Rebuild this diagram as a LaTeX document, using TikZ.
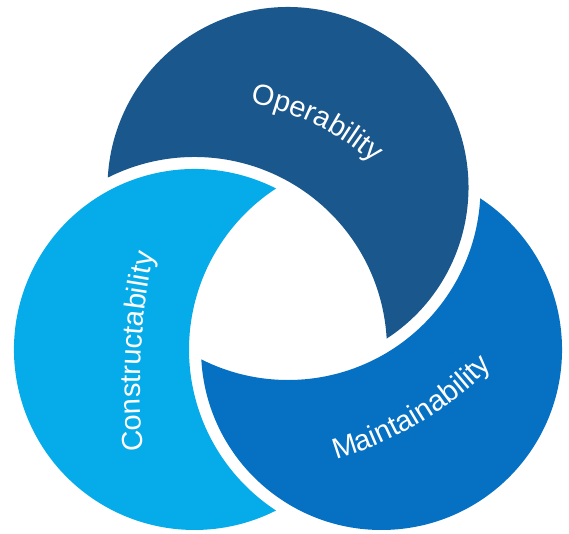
\documentclass[tikz,border=0pt]{standalone}
\usepackage{fontspec}
\setmainfont{Liberation Sans}
\usetikzlibrary{decorations.text,calc}
\definecolor{opblue}{RGB}{26,87,141}
\definecolor{conblue}{RGB}{6,172,234}
\definecolor{mainblue}{RGB}{6,113,195}
\begin{document}
\begin{tikzpicture}[x=1pt,y=1pt,
  lbl/.style={decorate,decoration={text along path,text align=center,
     text={|\color{white}\fontsize{29}{35}\selectfont|#1}}}]
\useasboundingbox (0,0) rectangle (569,534);
% geometry (in units of 100pt for the arithmetic): radius R, widened radius Rw, centre spacing s
\pgfmathsetmacro\R{180.5}
\pgfmathsetmacro\Rw{192.5}
\pgfmathsetmacro\sh{1.08*sqrt(3)}
\pgfmathsetmacro\ah{(\sh*\sh+1.805*1.805-1.925*1.925)/(2*\sh)}
\pgfmathsetmacro\al{acos(\ah/1.805)}
\pgfmathsetmacro\be{acos((\sh-\ah)/1.925)}
\coordinate (O) at (288,238.5);
\coordinate (D) at ($(O)+(90:108)$);
\coordinate (L) at ($(O)+(210:108)$);
\coordinate (M) at ($(O)+(330:108)$);
% crescent: circle at #2 minus widened circle in direction #3
\newcommand\crescent[3]{%
  \fill[#1] ($(#2)+({#3+\al}:\R)$)
    arc[start angle={#3+\al}, end angle={#3+360-\al}, radius=\R]
    arc[start angle={#3+180+\be}, end angle={#3+180-\be}, radius=\Rw]
    -- cycle;}
\crescent{opblue}{D}{240}
\crescent{conblue}{L}{0}
\crescent{mainblue}{M}{120}
% labels
\coordinate (cop) at (202,175.3);
\coordinate (ccon) at (740.2,150.6);
\coordinate (cmain) at (235.7,420.2);
\path[lbl=Operability] ($(cop)+(89:260)$) arc[start angle=89,end angle=39,radius=260pt];
\path[lbl=Constructability] ($(ccon)+(189:600)$) arc[start angle=189,end angle=165,radius=600pt];
\path[lbl=Maintainability] ($(cmain)+(-79.2:360)$) arc[start angle=-79.2,end angle=-39.2,radius=360pt];
\end{tikzpicture}
\end{document}
